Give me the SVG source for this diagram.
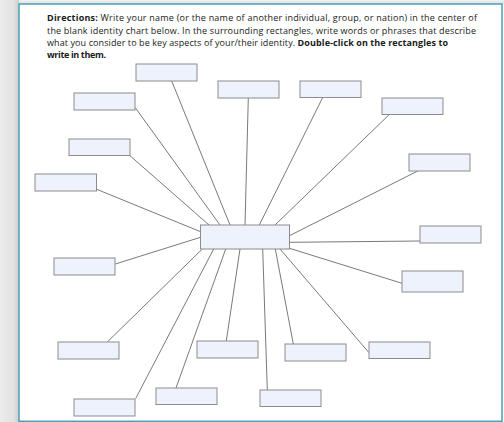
<svg xmlns="http://www.w3.org/2000/svg" width="504" height="422" viewBox="0 0 504 422">
  <defs>
    <linearGradient id="shadeL" x1="0" y1="0" x2="1" y2="0">
      <stop offset="0" stop-color="#ececec"/>
      <stop offset="0.7" stop-color="#e2e2e2"/>
      <stop offset="1" stop-color="#cdcdcd"/>
    </linearGradient>
    <linearGradient id="shadeT" x1="0" y1="0" x2="0" y2="1">
      <stop offset="0" stop-color="#f2f2f2"/>
      <stop offset="1" stop-color="#e0e0e0"/>
    </linearGradient>
    <style>
      .box { fill: #eef2fc; stroke: #8c8c8c; stroke-width: 1; }
      .link { stroke: #7a7a7a; stroke-width: 1; fill: none; }
      .dir { font-family: "Open Sans", "Noto Sans", sans-serif; font-size: 9px; fill: #1a1a1a; }
      .b { font-weight: bold; }
    </style>
  </defs>
  <rect x="0" y="0" width="504" height="422" fill="#ffffff"/>
  <rect x="0" y="0" width="504" height="4" fill="url(#shadeT)"/>
  <rect x="0" y="0" width="19" height="422" fill="url(#shadeL)"/>
  <rect x="19" y="4" width="483" height="417.3" fill="#ffffff" stroke="#46a2b6" stroke-width="1.5"/>

  <g id="directions" class="dir">
    <text x="47" y="21.4" textLength="430" lengthAdjust="spacing"><tspan class="b">Directions:</tspan> Write your name (or the name of another individual, group, or nation) in the center of</text>
    <text x="47" y="33.6" textLength="429" lengthAdjust="spacing">the blank identity chart below. In the surrounding rectangles, write words or phrases that describe</text>
    <text x="47" y="45.8" textLength="401" lengthAdjust="spacing">what you consider to be key aspects of your/their identity. <tspan class="b">Double-click on the rectangles to</tspan></text>
    <text x="47" y="57.6" class="b" textLength="59" lengthAdjust="spacing">write in them.</text>
  </g>

  <g id="connectors" class="link">
    <line x1="171.7" y1="81" x2="230" y2="225"/>
    <line x1="135.3" y1="107.7" x2="220" y2="225"/>
    <line x1="130" y1="155.7" x2="209" y2="225"/>
    <line x1="96.7" y1="189.3" x2="200.5" y2="231.7"/>
    <line x1="248.3" y1="98" x2="245" y2="225"/>
    <line x1="322.7" y1="97.5" x2="259.3" y2="225"/>
    <line x1="389.3" y1="114.5" x2="275" y2="225"/>
    <line x1="417.7" y1="171" x2="289.5" y2="235.7"/>
    <line x1="289.5" y1="242.3" x2="420" y2="241"/>
    <line x1="289.5" y1="248.3" x2="402" y2="283.3"/>
    <line x1="280" y1="249" x2="369" y2="352.7"/>
    <line x1="275.3" y1="249" x2="293.3" y2="344"/>
    <line x1="262.7" y1="249" x2="267.3" y2="390"/>
    <line x1="240" y1="249" x2="226.3" y2="341"/>
    <line x1="115.3" y1="264" x2="200.5" y2="237.3"/>
    <line x1="107.3" y1="342" x2="202.3" y2="249"/>
    <line x1="135.7" y1="398.5" x2="213.7" y2="249"/>
    <line x1="176" y1="388" x2="225.7" y2="249"/>
  </g>

  <g id="center"><rect class="box" x="200.5" y="225" width="89" height="24"/></g>
  <g id="box-a"><rect class="box" x="136" y="64" width="61" height="17"/></g>
  <g id="box-b"><rect class="box" x="74" y="93" width="61" height="17"/></g>
  <g id="box-c"><rect class="box" x="69" y="139" width="61" height="16.5"/></g>
  <g id="box-d"><rect class="box" x="35" y="174" width="61.5" height="17"/></g>
  <g id="box-e"><rect class="box" x="218" y="81" width="61" height="17"/></g>
  <g id="box-f"><rect class="box" x="300" y="81" width="61" height="16.5"/></g>
  <g id="box-g"><rect class="box" x="382" y="98" width="61" height="16.5"/></g>
  <g id="box-h"><rect class="box" x="409" y="154" width="61" height="17"/></g>
  <g id="box-i"><rect class="box" x="420" y="226" width="61" height="17"/></g>
  <g id="box-j"><rect class="box" x="402" y="271" width="61" height="21"/></g>
  <g id="box-k"><rect class="box" x="369" y="342" width="61" height="16.5"/></g>
  <g id="box-l"><rect class="box" x="285" y="344" width="61" height="17"/></g>
  <g id="box-m"><rect class="box" x="260" y="390" width="61" height="16.5"/></g>
  <g id="box-n"><rect class="box" x="197" y="341" width="61" height="17"/></g>
  <g id="box-o"><rect class="box" x="54" y="258" width="61" height="17"/></g>
  <g id="box-p"><rect class="box" x="58" y="342" width="61" height="17"/></g>
  <g id="box-q"><rect class="box" x="74" y="399" width="61" height="17"/></g>
  <g id="box-r"><rect class="box" x="156" y="388" width="61" height="16.5"/></g>
</svg>
